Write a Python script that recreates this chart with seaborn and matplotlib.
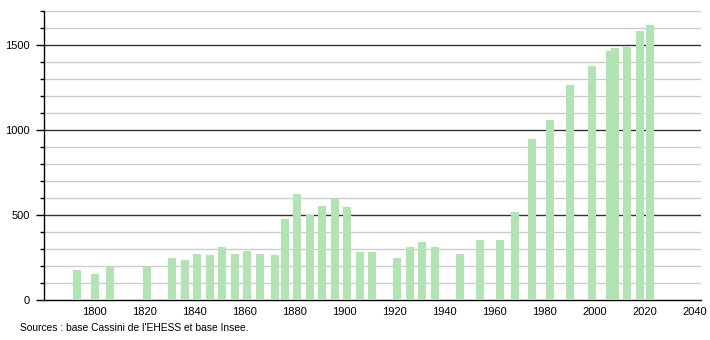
import matplotlib
matplotlib.use("Agg")
import matplotlib.pyplot as plt
import seaborn as sns
import pandas as pd
from matplotlib.ticker import MultipleLocator

years = [1793, 1800, 1806, 1821, 1831, 1836, 1841, 1846, 1851, 1856, 1861, 1866,
         1872, 1876, 1881, 1886, 1891, 1896, 1901, 1906, 1911, 1921, 1926, 1931,
         1936, 1946, 1954, 1962, 1968, 1975, 1982, 1990, 1999, 2006, 2008, 2013,
         2018, 2022]
population = [176, 153, 200, 200, 249, 237, 272, 265, 314, 272, 288, 270,
              263, 476, 624, 498, 553, 596, 549, 282, 282, 249, 312, 341,
              312, 270, 355, 355, 514, 947, 1055, 1265, 1376, 1461, 1480, 1488,
              1578, 1612]
x_ticks = [1800, 1820, 1840, 1860, 1880, 1900, 1920, 1940, 1960, 1980, 2000, 2020, 2040]
source_text = "Sources : base Cassini de l'EHESS et base Insee."

df = pd.DataFrame({"year": years, "pop": population})

sns.set_style("white")
plt.rcParams["font.family"] = ["Liberation Sans", "DejaVu Sans"]
plt.rcParams["text.color"] = "black"
plt.rcParams["xtick.color"] = "black"
plt.rcParams["ytick.color"] = "black"

fig = plt.figure(figsize=(7.1, 3.4), dpi=100)
ax = fig.add_axes([44 / 710, 40 / 340, (701 - 44) / 710, (300 - 10.5) / 340])

bar_color = "#b2e3b2"
sns.barplot(data=df, x="year", y="pop", native_scale=True, color=bar_color,
            saturation=1, linewidth=0, ax=ax, zorder=3)
bar_w = 3.2
for patch, yr in zip(ax.patches, years):
    patch.set_width(bar_w)
    patch.set_x(yr - bar_w / 2)

ax.set_xlim(1779.8, 2042.6)
ax.set_ylim(0, 1700)

ax.set_xticks(x_ticks)
ax.set_xticklabels([str(t) for t in x_ticks])
ax.yaxis.set_major_locator(MultipleLocator(500))
ax.yaxis.set_minor_locator(MultipleLocator(100))

ax.grid(False)
for v in range(100, 1701, 100):
    if v % 500 == 0:
        ax.axhline(v, color="#333333", lw=1.0, zorder=1)
    else:
        ax.axhline(v, color="#cccccc", lw=1.0, zorder=1)

for s in ["top", "right"]:
    ax.spines[s].set_visible(False)
ax.spines["left"].set_color("black")
ax.spines["bottom"].set_color("black")
ax.spines["left"].set_linewidth(1)
ax.spines["bottom"].set_linewidth(1)

ax.tick_params(axis="y", which="major", direction="out", length=6, width=1,
               color="black", labelcolor="black", labelsize=8, left=True, pad=4)
ax.tick_params(axis="y", which="minor", direction="out", length=3, width=1,
               color="black", left=True)
ax.tick_params(axis="x", which="major", length=0, labelsize=8, pad=5,
               labelcolor="black", bottom=True)
ax.set_xlabel("")
ax.set_ylabel("")

fig.text(20 / 710, 1 - 328 / 340, source_text, fontsize=7.4, va="center",
         ha="left", color="black")

fig.savefig("out.png", dpi=100)
